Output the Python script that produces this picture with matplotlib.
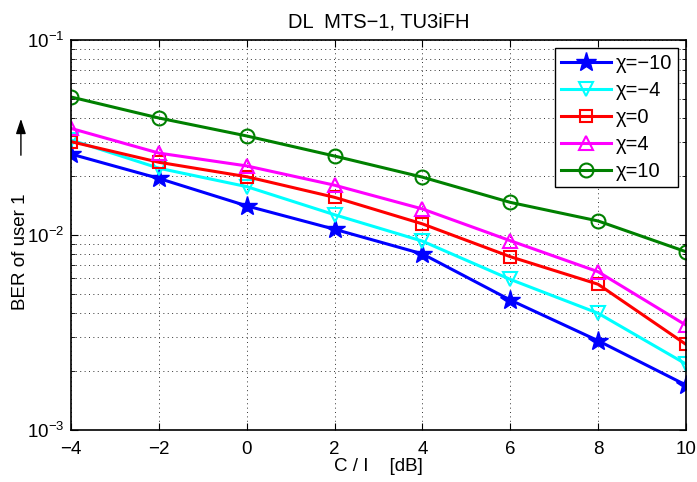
import matplotlib
matplotlib.use('Agg')
import matplotlib.pyplot as plt
from matplotlib.patches import FancyArrowPatch

plt.rcParams['font.family'] = ['Liberation Sans', 'DejaVu Sans']
plt.rcParams['mathtext.fontset'] = 'custom'
plt.rcParams['mathtext.rm'] = 'Liberation Sans'
plt.rcParams['mathtext.it'] = 'Liberation Sans:italic'

# C/I in dB
ci_db = [-4, -2, 0, 2, 4, 6, 8, 10]

# BER of user 1 for each chi
ber_m10 = [0.0260, 0.0195, 0.0141, 0.0107, 0.0080, 0.00464, 0.00287, 0.00170]
ber_m4 = [0.0307, 0.0220, 0.0177, 0.0127, 0.0093, 0.00592, 0.00397, 0.00218]
ber_0 = [0.0301, 0.0236, 0.0199, 0.0156, 0.0114, 0.00774, 0.00559, 0.00275]
ber_4 = [0.0352, 0.0263, 0.0226, 0.0180, 0.0136, 0.00935, 0.00648, 0.00345]
ber_10 = [0.0510, 0.0398, 0.0322, 0.0254, 0.0198, 0.0147, 0.0118, 0.00821]

labels = ['χ=−10', 'χ=−4', 'χ=0', 'χ=4', 'χ=10']

fig = plt.figure(figsize=(6.97, 4.82), dpi=100)
ax = fig.add_axes([0.102, 0.108, 0.882, 0.809])

ax.plot(ci_db, ber_m10, color='#0000ff', lw=2.2, marker='*', ms=15, label=labels[0])
ax.plot(ci_db, ber_m4, color='#00ffff', lw=2.2, marker='v', ms=10, mfc='none', mew=1.5, label=labels[1])
ax.plot(ci_db, ber_0, color='#ff0000', lw=2.2, marker='s', ms=8, mfc='none', mew=1.5, label=labels[2])
ax.plot(ci_db, ber_4, color='#ff00ff', lw=2.2, marker='^', ms=10, mfc='none', mew=1.5, label=labels[3])
ax.plot(ci_db, ber_10, color='#008000', lw=2.2, marker='o', ms=10, mfc='none', mew=1.5, label=labels[4])

ax.set_yscale('log')
ax.set_xlim(-4, 10)
ax.set_ylim(1e-3, 1e-1)
ax.set_xticks(ci_db)
ax.set_xticklabels([str(v).replace('-', '−') for v in ci_db])

dots = (0, (1, 3.5))
ax.grid(True, which='major', linestyle=dots, color='#333333', lw=0.7)
ax.grid(True, which='minor', axis='y', linestyle=dots, color='#333333', lw=0.7)
ax.tick_params(which='both', direction='in', top=True, right=True, labelsize=13.5)
ax.tick_params(axis='x', pad=8)
ax.tick_params(axis='y', pad=5)
ax.tick_params(which='major', length=5)
ax.tick_params(which='minor', length=3)
for s in ax.spines.values():
    s.set_linewidth(1.2)

ax.set_title('DL  MTS−1, TU3iFH', fontsize=14.5, pad=9)
ax.set_xlabel('C / I    [dB]', fontsize=13.5, labelpad=0)

# y label with a separate upward arrow above it
fig.text(0.029, 0.477, 'BER of user 1', rotation=90, fontsize=13.5,
         ha='center', va='center')
fig.add_artist(FancyArrowPatch(
    (0.030, 1 - 158 / 482), (0.030, 1 - 116 / 482), transform=fig.transFigure,
    arrowstyle='-|>,head_length=9,head_width=3', color='black', lw=1.0))

leg = ax.legend(loc='upper right', fontsize=14.5, frameon=True, fancybox=False,
                edgecolor='black', framealpha=1, handlelength=2.5,
                borderpad=0.3, labelspacing=0.4, handletextpad=0.2,
                borderaxespad=0.4)
leg.get_frame().set_linewidth(1.0)

fig.savefig('out.png', dpi=100)
